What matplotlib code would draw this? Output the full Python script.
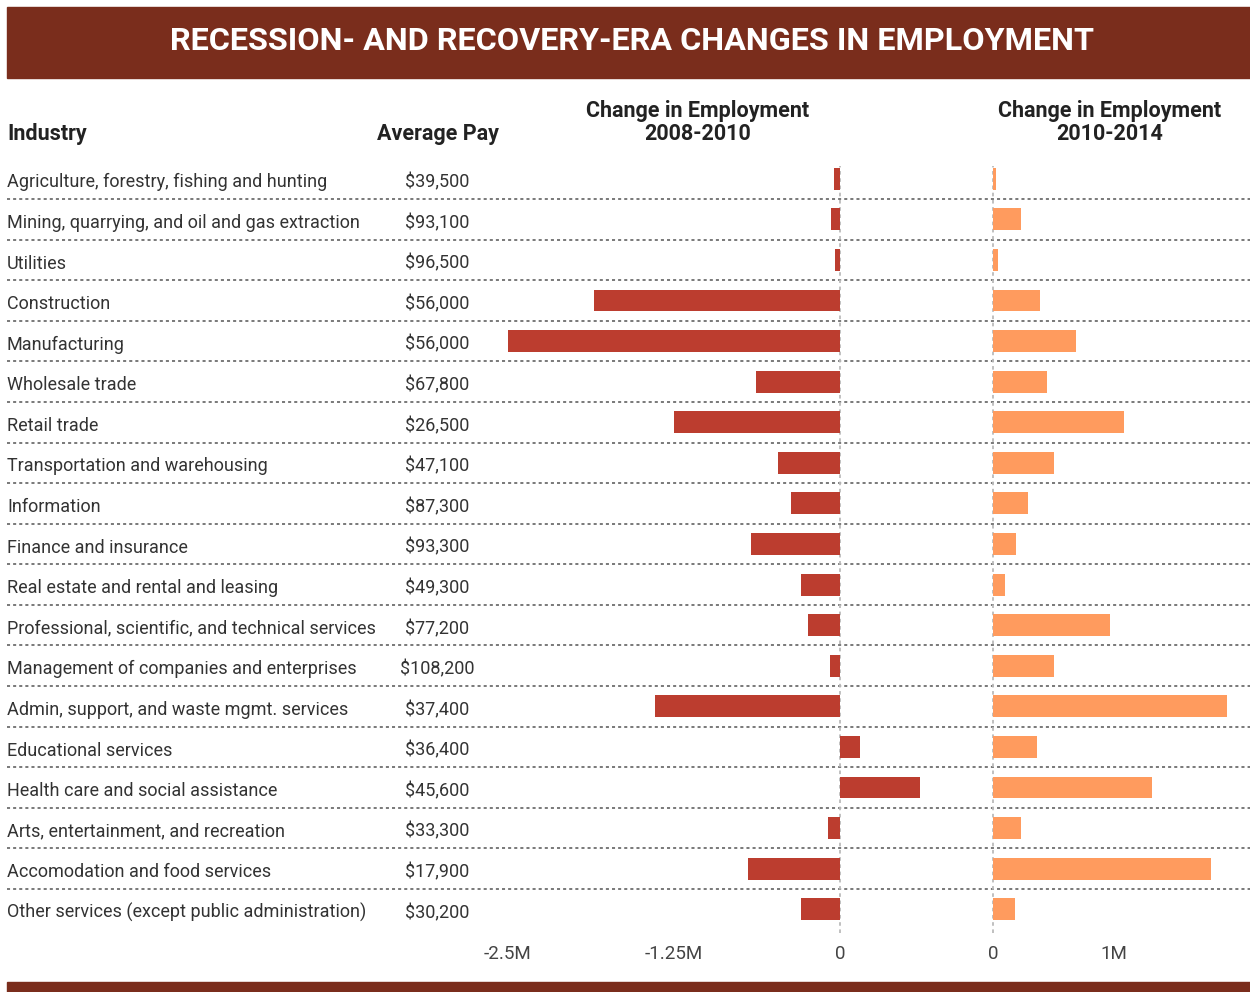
import numpy as np
import matplotlib.pyplot as plt

industries = [
    'Agriculture, forestry, fishing and hunting',
    'Mining, quarrying, and oil and gas extraction',
    'Utilities',
    'Construction',
    'Manufacturing',
    'Wholesale trade',
    'Retail trade',
    'Transportation and warehousing',
    'Information',
    'Finance and insurance',
    'Real estate and rental and leasing',
    'Professional, scientific, and technical services',
    'Management of companies and enterprises',
    'Admin, support, and waste mgmt. services',
    'Educational services',
    'Health care and social assistance',
    'Arts, entertainment, and recreation',
    'Accomodation and food services',
    'Other services (except public administration)',
]
avg_pay = ['$39,500', '$93,100', '$96,500', '$56,000', '$56,000', '$67,800',
           '$26,500', '$47,100', '$87,300', '$93,300', '$49,300', '$77,200',
           '$108,200', '$37,400', '$36,400', '$45,600', '$33,300', '$17,900',
           '$30,200']
change_2008_2010 = [-45000, -68000, -35000, -1850000, -2500000, -630000,
                    -1250000, -470000, -370000, -670000, -290000, -240000,
                    -75000, -1390000, 150000, 600000, -90000, -690000, -290000]
change_2010_2014 = [25000, 230000, 40000, 390000, 690000, 450000,
                    1080000, 500000, 290000, 190000, 100000, 970000,
                    500000, 1930000, 360000, 1310000, 230000, 1800000, 180000]

left_ticks = [-2500000, -1250000, 0]
left_labels = ['-2.5M', '-1.25M', '0']
right_ticks = [0, 1000000]
right_labels = ['0', '1M']

W, H = 1250, 992
BANNER = '#7a2d1c'
RED = '#bc3d2f'
ORANGE = '#ff9b5e'
FONT = 'Roboto'

fig = plt.figure(figsize=(W / 100, H / 100), dpi=100)

def fx(px):
    return px / W

def fy(py):
    return 1 - py / H

n = len(industries)
rows = np.arange(n)
row_top, row_bot = 158.5, 929.5  # pixel extent of the row area
ax_b, ax_h = fy(row_bot), (row_bot - row_top) / H

# banners
fig.patches.append(plt.Rectangle((fx(7), fy(78)), fx(W - 7), (78 - 7) / H,
                                 transform=fig.transFigure, color=BANNER, zorder=0))
fig.patches.append(plt.Rectangle((fx(7), 0), fx(W - 7), (H - 982) / H,
                                 transform=fig.transFigure, color=BANNER, zorder=0))
fig.text(fx(632), fy(41), 'RECESSION- AND RECOVERY-ERA CHANGES IN EMPLOYMENT',
         color='white', fontsize=23.3, fontweight='bold', family=FONT,
         ha='center', va='center')

# headers
hdr = dict(fontsize=15.5, fontweight='bold', family=FONT, color='#222222', va='center')
fig.text(fx(7), fy(134), 'Industry', ha='left', **hdr)
fig.text(fx(377), fy(134), 'Average Pay', ha='left', **hdr)
fig.text(fx(698), fy(111), 'Change in Employment', ha='center', **hdr)
fig.text(fx(698), fy(134), '2008-2010', ha='center', **hdr)
fig.text(fx(1110), fy(111), 'Change in Employment', ha='center', **hdr)
fig.text(fx(1110), fy(134), '2010-2014', ha='center', **hdr)

# background table: labels and separators
bg = fig.add_axes([fx(7), ax_b, fx(W - 7), ax_h])
bg.set_xlim(7, W)
bg.set_ylim(n - 0.5, -0.5)
bg.axis('off')
for i in range(n):
    bg.text(7, i + 0.09, industries[i], fontsize=13, family=FONT, color='#333333',
            ha='left', va='center')
    bg.text(437, i + 0.09, avg_pay[i], fontsize=13, family=FONT, color='#333333',
            ha='center', va='center')
for i in range(n - 1):
    bg.axhline(i + 0.5, color='#555555', lw=1.1, ls=(0, (2, 2)))

# left bar panel
scale_l = 132.8 / 1e6
axl = fig.add_axes([fx(480), ax_b, fx(960 - 480), ax_h])
axl.set_xlim((480 - 840) / scale_l, (960 - 840) / scale_l)
axl.set_ylim(n - 0.5, -0.5)
axl.patch.set_visible(False)
axl.barh(rows, change_2008_2010, height=0.54, color=RED, zorder=3)
axl.axvline(0, ymin=-0.004, ymax=0.99, color='#bbbbbb', lw=1.3,
            ls=(0, (2, 2)), clip_on=False, zorder=2)

# right bar panel
scale_r = 121.0 / 1e6
axr = fig.add_axes([fx(960), ax_b, fx(W - 960), ax_h])
axr.set_xlim((960 - 993) / scale_r, (W - 993) / scale_r)
axr.set_ylim(n - 0.5, -0.5)
axr.patch.set_visible(False)
axr.barh(rows, change_2010_2014, height=0.54, color=ORANGE, zorder=3)
axr.axvline(0, ymin=-0.004, ymax=0.99, color='#bbbbbb', lw=1.3,
            ls=(0, (2, 2)), clip_on=False, zorder=2)

for ax, ticks, labels in [(axl, left_ticks, left_labels), (axr, right_ticks, right_labels)]:
    for s in ax.spines.values():
        s.set_visible(False)
    ax.set_yticks([])
    ax.set_xticks(ticks)
    ax.set_xticklabels(labels, family=FONT, fontsize=13.5, color='#444444')
    ax.tick_params(axis='x', length=0, pad=11)

fig.savefig('out.png', dpi=100)
